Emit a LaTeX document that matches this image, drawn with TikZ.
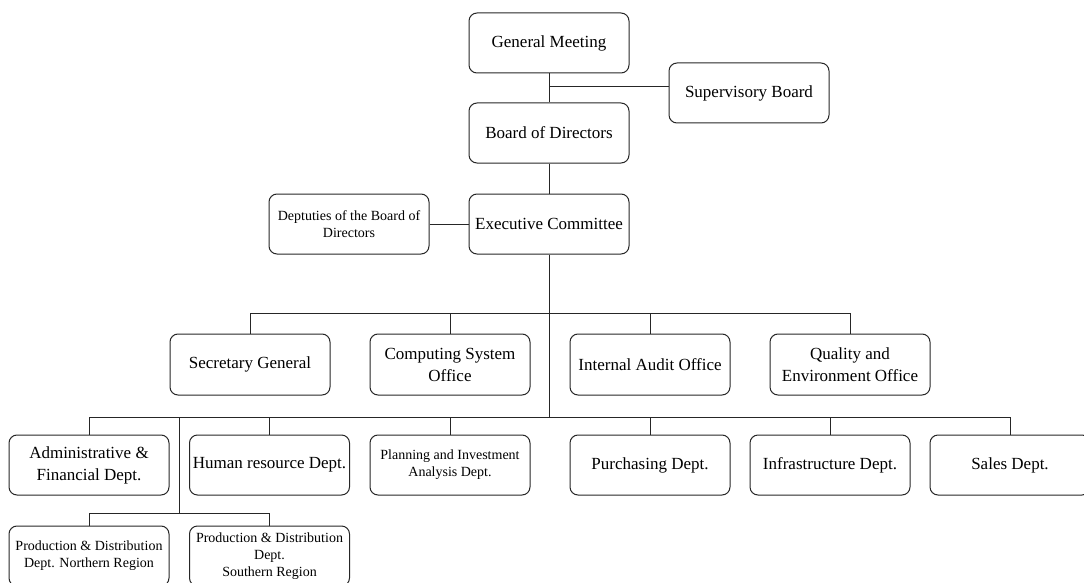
\documentclass[tikz,border=0pt]{standalone}
\usepackage{fontspec}
\setmainfont{Liberation Serif}
\begin{document}
\begin{tikzpicture}[x=1pt,y=-1pt,
  unit/.style={draw=black!85, line width=1pt, rounded corners=8pt,
    minimum width=160pt, minimum height=60pt, align=center, inner sep=2pt,
    font=\fontsize{17}{22}\selectfont},
  smallunit/.style={unit, font=\fontsize{14}{17}\selectfont},
  link/.style={draw=black!85, line width=1pt}]
\useasboundingbox (0,0) rectangle (1084,583);
\clip (0,0) rectangle (1084,583);

% top of the hierarchy
\node[unit] (gm)   at (549,43)  {General Meeting};
\node[unit] (sup)  at (749,93)  {Supervisory Board};
\node[unit] (bod)  at (549,133) {Board of Directors};
\node[unit] (exec) at (549,224) {Executive Committee};
\node[smallunit] (dep) at (349,224) {Deptuties of the Board of\\Directors};

% offices
\node[unit, minimum height=61pt] (sec)  at (250,364.5) {Secretary General};
\node[unit, minimum height=61pt] (comp) at (450,364.5) {Computing System\\Office};
\node[unit, minimum height=61pt] (aud)  at (650,364.5) {Internal Audit Office};
\node[unit, minimum height=61pt] (qual) at (850,364.5) {Quality and\\Environment Office};

% departments
\node[unit] (adm)   at (89,465)    {Administrative \&\\Financial Dept.};
\node[unit] (hr)    at (269.5,465) {Human resource Dept.};
\node[smallunit] (plan) at (450,465) {Planning and Investment\\Analysis Dept.};
\node[unit] (purch) at (650,465)   {Purchasing Dept.};
\node[unit] (infra) at (830,465)   {Infrastructure Dept.};
\node[unit] (sales) at (1010,465)  {Sales Dept.};

% production branches
\node[smallunit] (pn) at (89,556)    {Production \& Distribution\\Dept. Northern Region};
\node[smallunit] (ps) at (269.5,556) {Production \& Distribution\\Dept.\\Southern Region};

% bus coordinates
\coordinate (supj) at (549,87);
\coordinate (bus2) at (549,313);
\coordinate (bus3) at (549,417);
\coordinate (brj)  at (179,417);
\coordinate (brb)  at (179,513);

% main trunk
\path[link] (gm) -- (bod);
\path[link] (bod) -- (exec);
\path[link] (supj) -- (supj -| sup.west);
\path[link] (dep) -- (exec);
\path[link] (exec) -- (bus3);

% office bus
\path[link] (sec.north |- bus2) -- (qual.north |- bus2);
\foreach \n in {sec,comp,aud,qual} \path[link] (\n.north |- bus2) -- (\n.north);

% department bus
\path[link] (adm.north |- bus3) -- (sales.north |- bus3);
\foreach \n in {adm,hr,plan,purch,infra,sales} \path[link] (\n.north |- bus3) -- (\n.north);

% production branch
\path[link] (brj) -- (brb);
\path[link] (pn.north |- brb) -- (ps.north |- brb);
\foreach \n in {pn,ps} \path[link] (\n.north |- brb) -- (\n.north);
\end{tikzpicture}
\end{document}
